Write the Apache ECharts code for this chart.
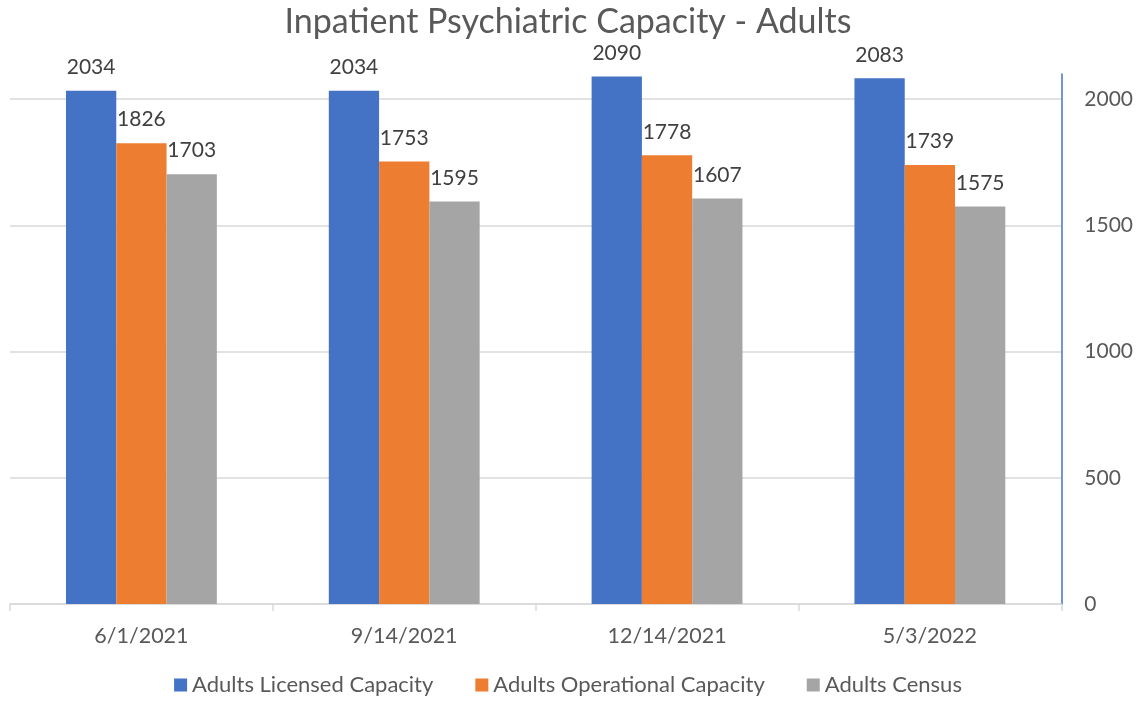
<!DOCTYPE html>
<html>
<head>
<meta charset="utf-8">
<script src="https://cdn.jsdelivr.net/npm/echarts@6/dist/echarts.min.js"></script>
<style>
  html, body { margin: 0; padding: 0; background: #fff; }
  #main { width: 1136px; height: 701px; }
</style>
</head>
<body>
<div id="main"></div>
<script>
// data
var dates = ["6/1/2021", "9/14/2021", "12/14/2021", "5/3/2022"];
var licensed = [2034, 2034, 2090, 2083];
var operational = [1826, 1753, 1778, 1739];
var census = [1703, 1595, 1607, 1575];
var seriesNames = ["Adults Licensed Capacity", "Adults Operational Capacity", "Adults Census"];

var font = "Lato, 'Open Sans', sans-serif";
var myChart = echarts.init(document.getElementById("main"));

function barSeries(name, data, color) {
  return {
    name: name,
    type: "bar",
    data: data,
    barGap: "0%",
    barCategoryGap: "42.6%",
    itemStyle: { color: color },
    label: {
      show: true,
      position: "top",
      distance: 13,
      color: "#404040",
      fontSize: 21,
      fontFamily: font
    }
  };
}

var option = {
  animation: false,
  color: ["#4472C4", "#ED7D31", "#A5A5A5"],
  title: {
    text: "Inpatient Psychiatric Capacity - Adults",
    left: "center",
    top: 0,
    textStyle: {
      color: "#595959",
      fontSize: 34,
      fontWeight: "normal",
      fontFamily: font
    }
  },
  legend: {
    data: seriesNames,
    bottom: 0,
    left: "center",
    itemWidth: 13,
    itemHeight: 13,
    itemGap: 42,
    icon: "rect",
    textStyle: { color: "#595959", fontSize: 22, fontFamily: font }
  },
  grid: {
    left: 10,
    right: 74,
    top: 74,
    bottom: 97
  },
  xAxis: {
    type: "category",
    data: dates,
    axisLine: { lineStyle: { color: "#D9D9D9", width: 1.5 } },
    axisTick: { show: true, length: 7, lineStyle: { color: "#D9D9D9", width: 1.5 } },
    axisLabel: { color: "#595959", fontSize: 21.5, fontFamily: font, margin: 21 }
  },
  yAxis: {
    type: "value",
    position: "right",
    min: 0,
    max: 2100,
    interval: 500,
    axisLine: { show: true, lineStyle: { color: "#4472C4", width: 1.5 } },
    axisTick: { show: false },
    axisLabel: {
      color: "#595959",
      fontSize: 21,
      fontFamily: font,
      margin: 23,
      showMaxLabel: false,
      formatter: function (v) { return String(v); }
    },
    splitLine: { show: true, showMaxLine: false, lineStyle: { color: "#D9D9D9", width: 1.5 } }
  },
  series: [
    barSeries(seriesNames[0], licensed, "#4472C4"),
    barSeries(seriesNames[1], operational, "#ED7D31"),
    barSeries(seriesNames[2], census, "#A5A5A5")
  ]
};

myChart.setOption(option);
</script>
</body>
</html>
